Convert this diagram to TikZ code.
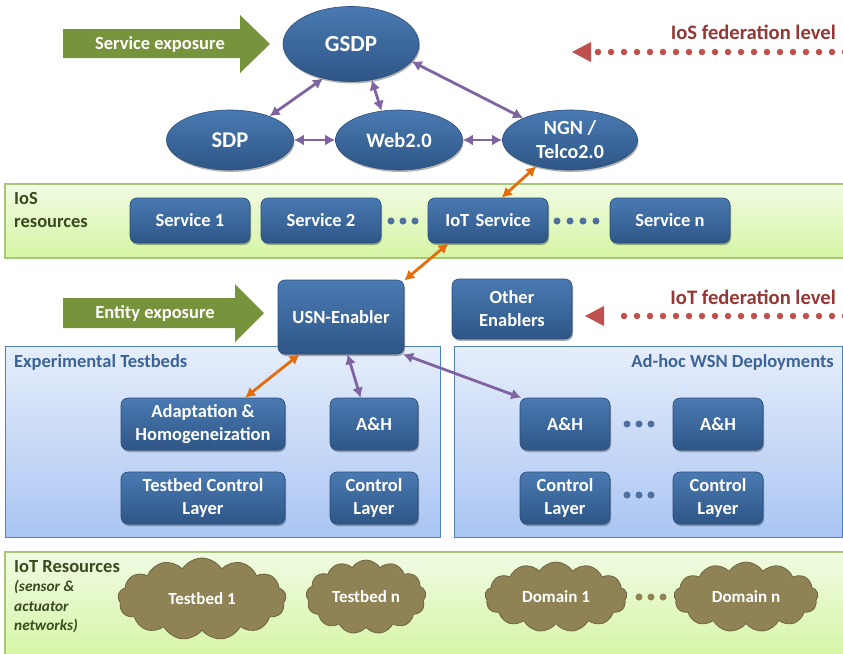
\documentclass[tikz,border=0pt]{standalone}
\usepackage{fontspec}
\setmainfont{Carlito}
\usetikzlibrary{arrows.meta,shapes.geometric,shapes.symbols,shadows}
\definecolor{boxtop}{HTML}{4A7AB2}
\definecolor{boxbot}{HTML}{2E5686}
\definecolor{boxedge}{HTML}{2A4D7A}
\definecolor{purp}{HTML}{8064A2}
\definecolor{orng}{HTML}{E46C0A}
\definecolor{fedred}{HTML}{C0504D}
\definecolor{fedtext}{HTML}{953735}
\definecolor{greenarrow}{HTML}{77933C}
\definecolor{bandtop}{HTML}{F0FBE3}
\definecolor{bandbot}{HTML}{D6F5A4}
\definecolor{bandedge}{HTML}{A6C77A}
\definecolor{bandtext}{HTML}{3B4A1E}
\definecolor{bluetop}{HTML}{E6EEFB}
\definecolor{bluebot}{HTML}{AAC5F3}
\definecolor{blueedge}{HTML}{4F81BD}
\definecolor{bluetext}{HTML}{3C6496}
\definecolor{dotblue}{HTML}{4F6F9E}
\definecolor{cloudfill}{HTML}{8F8356}
\definecolor{cloudedge}{HTML}{6E6440}
\newcommand\fsz[2]{\fontsize{#1}{#2}\selectfont}
\begin{document}
\begin{tikzpicture}[x=1pt,y=-1pt,
  box/.style={rectangle, rounded corners=7pt, draw=boxedge, line width=0.6pt,
    top color=boxtop, bottom color=boxbot, text=white, font=\fsz{18.5}{23}\bfseries,
    align=center, inner sep=0pt,
    drop shadow={opacity=0.3, shadow xshift=1pt, shadow yshift=-2pt, fill=black}},
  ell/.style={ellipse, draw=boxedge, line width=0.6pt, top color=boxtop,
    bottom color=boxbot, text=white, align=center, inner sep=0pt,
    drop shadow={opacity=0.3, shadow xshift=1pt, shadow yshift=-2pt, fill=black}},
  cl/.style={cloud, cloud puffs=13, cloud puff arc=115, aspect=2.1,
    fill=cloudfill, draw=cloudedge, line width=0.8pt, text=white,
    font=\fsz{17}{20}\bfseries, inner sep=0pt},
  band/.style={draw=bandedge, line width=1.2pt, top color=bandtop, bottom color=bandbot},
  bluebox/.style={draw=blueedge, line width=1pt, top color=bluetop, bottom color=bluebot},
  pl/.style={{Latex[length=10pt,width=11pt]}-{Latex[length=10pt,width=11pt]}, line width=2.8pt, draw=purp},
  ol/.style={{Latex[length=10pt,width=11pt]}-{Latex[length=10pt,width=11pt]}, line width=2.8pt, draw=orng},
  fatarrow/.style={fill=greenarrow},
  fedline/.style={draw=fedred, line width=6.5pt, line cap=round, dash pattern=on 0pt off 13pt},
  fedhead/.style={fill=fedred},
  dotb/.style={circle, fill=dotblue, minimum size=7pt, inner sep=0pt},
  dotc/.style={circle, fill=cloudfill, minimum size=7pt, inner sep=0pt},
]
\clip (0,0) rectangle (843,653);
\fill[white] (0,0) rectangle (843,653);

% bands
\path[band] (5,184) rectangle (848,258);
\path[band] (5,552) rectangle (848,660);
\path[bluebox] (5,346) rectangle (440,537);
\path[bluebox] (454,346) rectangle (842,537);

% band labels
\node[anchor=north west, align=left, text=bandtext, font=\fsz{18.5}{23}\bfseries, inner sep=0pt] (iosres) at (14,192) {IoS\\resources};
\node[anchor=west, text=bluetext, font=\fsz{18.5}{22}\bfseries, inner sep=0pt] (exptb) at (14,362) {Experimental Testbeds};
\node[anchor=east, text=bluetext, font=\fsz{18.5}{22}\bfseries, inner sep=0pt] (adhoc) at (834,362) {Ad-hoc WSN Deployments};
\node[anchor=west, text=bandtext, font=\fsz{18.5}{22}\bfseries, inner sep=0pt] (iotres) at (14,567) {IoT Resources};
\node[anchor=north west, align=left, text=bandtext, font=\fsz{15.3}{19.5}\bfseries\itshape, inner sep=0pt] (iotsub) at (14,580) {(sensor \&\\actuator\\networks)};

% fat arrows
\path[fatarrow] (63,29) -- (240,29) -- (240,15) -- (270,44) -- (240,73) -- (240,58) -- (63,58) -- cycle;
\node[text=white, font=\fsz{18.5}{22}\bfseries] (svcexp) at (160,44) {Service exposure};
\path[fatarrow] (63,298) -- (235,298) -- (235,284) -- (264,313) -- (235,342) -- (235,328) -- (63,328) -- cycle;
\node[text=white, font=\fsz{18.5}{22}\bfseries] (entexp) at (155,313) {Entity exposure};

% federation levels
\node[anchor=east, text=fedtext, font=\fsz{20.6}{24}\bfseries, inner sep=0pt] (iosfed) at (836,32) {IoS federation level};
\coordinate (iosfedA) at (845,52);
\coordinate (iosfedB) at (597,52);
\draw[fedline] (iosfedA) -- (iosfedB);
\path[fedhead] (572,52) -- (591,42) -- (591,62) -- cycle;
\node[anchor=east, text=fedtext, font=\fsz{20.6}{24}\bfseries, inner sep=0pt] (iotfed) at (836,297) {IoT federation level};
\coordinate (iotfedA) at (845,316);
\coordinate (iotfedB) at (611,316);
\draw[fedline] (iotfedA) -- (iotfedB);
\path[fedhead] (585,316) -- (604,306) -- (604,326) -- cycle;

% ellipses
\node[ell, minimum width=136pt, minimum height=75pt, font=\fsz{23}{26}\bfseries] (gsdp) at (351,44) {GSDP};
\node[ell, minimum width=127pt, minimum height=60pt, font=\fsz{22.5}{26}\bfseries] (sdp) at (230,140) {SDP};
\node[ell, minimum width=127pt, minimum height=60pt, font=\fsz{20.5}{24}\bfseries] (web) at (399,140) {Web2.0};
\node[ell, minimum width=135pt, minimum height=60pt, font=\fsz{20}{24}\bfseries] (ngn) at (570,140) {NGN /\\Telco2.0};

% services
\node[box, minimum width=120pt, minimum height=45pt] (s1) at (190,220.5) {Service 1};
\node[box, minimum width=120pt, minimum height=45pt] (s2) at (321,220.5) {Service 2};
\node[box, minimum width=120pt, minimum height=45pt] (iot) at (488,220.5) {IoT\,\,Service};
\node[box, minimum width=120pt, minimum height=45pt] (sn) at (670,220.5) {Service n};
\foreach \i/\x in {a/391,b/403,c/415} \node[dotb] (d1\i) at (\x,221) {};
\foreach \i/\x in {a/557,b/570,c/583,d/596} \node[dotb] (d2\i) at (\x,221) {};

% enablers
\node[box, minimum width=126pt, minimum height=74pt] (usn) at (341,317) {USN-Enabler};
\node[box, minimum width=120pt, minimum height=60pt] (other) at (512,309) {Other\\Enablers};

% testbed boxes
\node[box, minimum width=164pt, minimum height=52pt] (adapt) at (203,424) {Adaptation \&\\Homogeneization};
\node[box, minimum width=88pt, minimum height=52pt] (ah1) at (374,424) {A\&H};
\node[box, minimum width=164pt, minimum height=52pt] (tcl) at (203,498) {Testbed Control\\Layer};
\node[box, minimum width=88pt, minimum height=52pt] (cl1) at (374,498) {Control\\Layer};

\node[box, minimum width=90pt, minimum height=52pt] (ah2) at (565,424) {A\&H};
\node[box, minimum width=90pt, minimum height=52pt] (ah3) at (718,424) {A\&H};
\node[box, minimum width=90pt, minimum height=52pt] (cl2) at (565,498) {Control\\Layer};
\node[box, minimum width=90pt, minimum height=52pt] (cl3) at (718,498) {Control\\Layer};
\foreach \i/\x in {a/627,b/639,c/651} \node[dotb] (d3\i) at (\x,424) {};
\foreach \i/\x in {a/627,b/639,c/651} \node[dotb] (d4\i) at (\x,495) {};

% clouds
\node[cl, minimum width=168pt, minimum height=82pt] (tb1) at (202,599) {Testbed 1};
\node[cl, minimum width=120pt, minimum height=74pt] (tbn) at (366,597) {Testbed n};
\node[cl, minimum width=142pt, minimum height=70pt] (dm1) at (556,597) {Domain 1};
\node[cl, minimum width=144pt, minimum height=70pt] (dmn) at (746,597) {Domain n};
\foreach \i/\x in {a/639,b/651,c/663} \node[dotc] (d5\i) at (\x,597) {};

% connectors
\draw[pl] (gsdp.-129) -- (sdp.31);
\draw[pl] (gsdp.-60) -- (web.121);
\draw[pl] (gsdp.-16) -- (ngn.155);
\draw[pl] (sdp.east) -- (web.west);
\draw[pl] (web.east) -- (ngn.west);
\draw[ol] (ngn.218) -- (iot.59);
\draw[ol] (iot.210) -- (usn.30);
\draw[ol] (usn.222) -- (adapt.32);
\draw[pl] (usn.280) -- (ah1.117);
\draw[pl] (usn.-31) -- (ah2.149);
\end{tikzpicture}
\end{document}
